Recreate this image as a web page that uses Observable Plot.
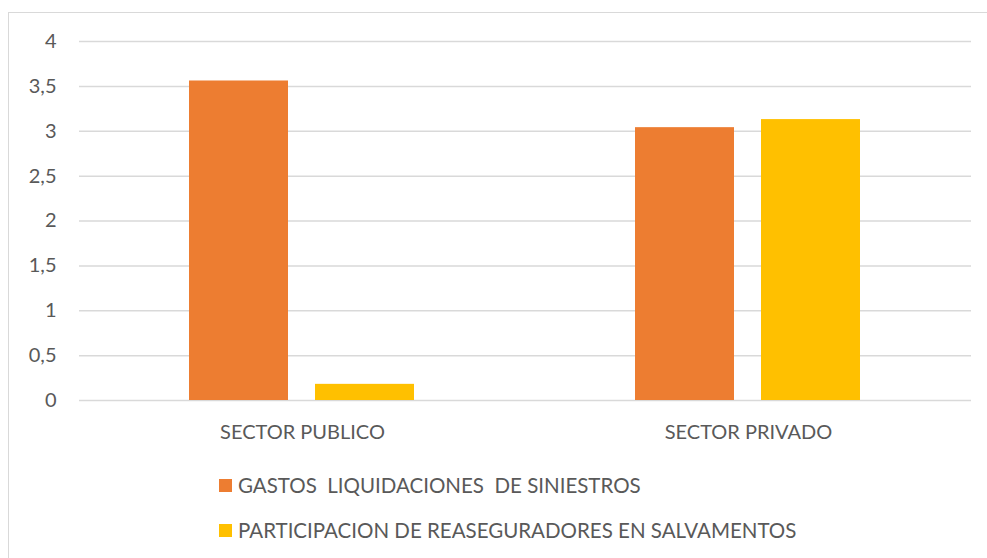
<!DOCTYPE html>
<html>
<head>
<meta charset="utf-8">
<script src="https://cdn.jsdelivr.net/npm/d3@7"></script>
<script src="https://cdn.jsdelivr.net/npm/@observablehq/plot@0.6"></script>
<style>
  html, body { margin: 0; padding: 0; background: #fff; }
  body { width: 987px; height: 558px; position: relative; overflow: hidden; font-family: Lato, "Open Sans", sans-serif; color: #595959; }
  #frame { position: absolute; left: 8px; top: 12px; width: 990px; height: 560px; border: 1px solid #d9d9d9; box-sizing: border-box; }
  #chart { position: absolute; left: 0; top: 0; }
  .leg { position: absolute; left: 219px; display: flex; align-items: center; font-size: 20.5px; white-space: pre; color: #595959; line-height: 24px; }
  .sw { width: 13px; height: 13px; margin-right: 6px; }
</style>
</head>
<body>
<div id="frame"></div>
<div id="chart"></div>
<div id="legend"></div>
<script>
const categories = ["SECTOR PUBLICO", "SECTOR PRIVADO"];
const series = ["GASTOS  LIQUIDACIONES  DE SINIESTROS", "PARTICIPACION DE REASEGURADORES EN SALVAMENTOS"];
const gastos = [3.56, 3.04];
const participacion = [0.18, 3.13];
const colors = ["#ED7D31", "#FFC000"];
const yTicks = [0, 0.5, 1, 1.5, 2, 2.5, 3, 3.5, 4];

const data = [];
categories.forEach((c, i) => {
  data.push({cat: c, series: series[0], value: gastos[i]});
  data.push({cat: c, series: series[1], value: participacion[i]});
});

const fmt = d => String(d).replace(".", ",");

const chart = Plot.plot({
  width: 987,
  height: 450,
  marginLeft: 78,
  marginRight: 16,
  marginTop: 41,
  marginBottom: 50,
  style: {fontFamily: "Lato, 'Open Sans', sans-serif", color: "#595959", background: "transparent"},
  fx: {domain: categories, paddingInner: 0, paddingOuter: 0, label: null},
  x: {domain: series, paddingInner: 0.2126, paddingOuter: 0.864, axis: null},
  y: {domain: [0, 4], label: null},
  color: {domain: series, range: colors},
  marks: [
    Plot.gridY(yTicks, {stroke: "#d9d9d9", strokeOpacity: 1, strokeWidth: 1.5}),
    Plot.axisY(yTicks, {tickSize: 0, tickPadding: 23, tickFormat: fmt, fontSize: 20, fill: "#595959", label: null}),
    Plot.axisFx({anchor: "bottom", tickSize: 0, tickPadding: 24, fontSize: 20, fill: "#595959", label: null}),
    Plot.barY(data, {fx: "cat", x: "series", y: "value", fill: "series"})
  ]
});
document.getElementById("chart").appendChild(chart);

const legend = document.getElementById("legend");
const legCenters = [485, 530];
series.forEach((s, i) => {
  const row = document.createElement("div");
  row.className = "leg";
  row.style.top = (legCenters[i] - 12) + "px";
  const sw = document.createElement("div");
  sw.className = "sw";
  sw.style.background = colors[i];
  const t = document.createElement("span");
  t.textContent = s;
  row.appendChild(sw);
  row.appendChild(t);
  legend.appendChild(row);
});
</script>
</body>
</html>
